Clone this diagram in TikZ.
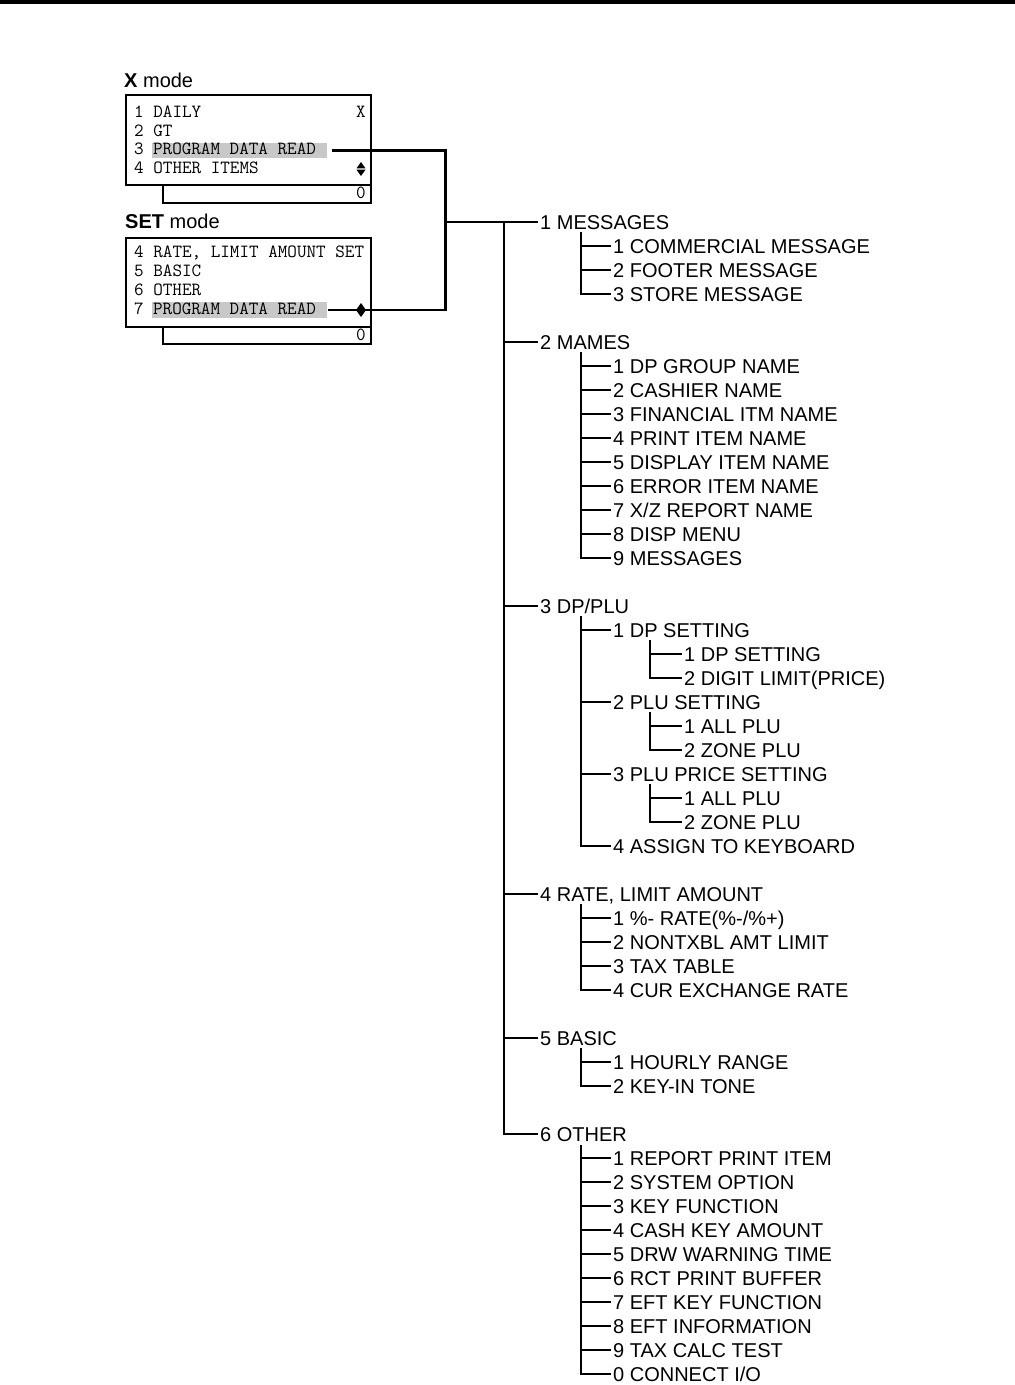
\documentclass[tikz,border=0pt]{standalone}
\usepackage{fontspec}
\setmainfont{Liberation Sans}
\definecolor{hl}{RGB}{200,200,200}
\begin{document}
\begin{tikzpicture}[x=1pt,y=-1pt,
  ln/.style={line width=2.1pt},
  box/.style={draw,line width=1.8pt,inner sep=0pt,anchor=north west},
  lbl/.style={anchor=west,inner sep=0pt,font=\fontsize{20}{24}\selectfont,text height=14.3pt,text depth=0pt},
  mono/.style={anchor=west,inner sep=0pt,font=\fontsize{18.6}{19}\selectfont\ttfamily,text height=12pt,text depth=3.5pt},
  hlbox/.style={mono,fill=hl,inner xsep=1.5pt},
  updown/.pic={\fill (-4.5,-0.7) -- (4.5,-0.7) -- (0,-7) -- cycle;
               \fill (-4.5,0.7) -- (4.5,0.7) -- (0,7) -- cycle;}]
\useasboundingbox (0,0) rectangle (1015,1385);
\fill (0,0) rectangle (1015,4);

% ---------- X mode panel ----------
\node[lbl] (xlab) at (124,80) {\textbf{X} mode};
\node[box,minimum width=245pt,minimum height=90pt] (xbox) at (125,94) {};
\node[box,minimum width=208pt,minimum height=18pt] (xsub) at (162,184) {};
\node[mono] (x1) at (134,113) {1 DAILY};
\node[mono,anchor=center] (xx) at (361,113) {X};
\node[mono] (x2) at (134,132) {2 GT};
\node[mono] (x3) at (134,150.5) {3};
\node[hlbox] (hx) at (151.4,150.5) {PROGRAM DATA READ\phantom{X}};
\node[mono] (x4) at (134,169.5) {4 OTHER ITEMS};
\pic at (361,169) {updown};
\node[mono,anchor=center] (x0) at (361,194.5) {0};

% ---------- SET mode panel ----------
\node[lbl] (slab) at (125,221) {\textbf{SET} mode};
\node[box,minimum width=245pt,minimum height=89pt] (sbox) at (125,237) {};
\node[box,minimum width=208pt,minimum height=17pt] (ssub) at (162,326) {};
\node[mono] (s4) at (134,253.5) {4 RATE, LIMIT AMOUNT SET};
\node[mono] (s5) at (134,272.5) {5 BASIC};
\node[mono] (s6) at (134,291.5) {6 OTHER};
\node[mono] (s7) at (134,310) {7};
\node[hlbox] (hs) at (151.4,310) {PROGRAM DATA READ\phantom{X}};
\node[mono,anchor=center] (s0) at (361,336) {0};

% ---------- tree ----------
\node[lbl] (m1) at (540,222) {1 MESSAGES};
\node[lbl] (m2) at (540,342) {2 MAMES};
\node[lbl] (m3) at (540,606) {3 DP/PLU};
\node[lbl] (m4) at (540,894) {4 RATE, LIMIT AMOUNT};
\node[lbl] (m5) at (540,1038) {5 BASIC};
\node[lbl] (m6) at (540,1134) {6 OTHER};
\node[lbl] (a1) at (613,246) {1 COMMERCIAL MESSAGE};
\node[lbl] (a2) at (613,270) {2 FOOTER MESSAGE};
\node[lbl] (a3) at (613,294) {3 STORE MESSAGE};
\node[lbl] (b1) at (613,366) {1 DP GROUP NAME};
\node[lbl] (b2) at (613,390) {2 CASHIER NAME};
\node[lbl] (b3) at (613,414) {3 FINANCIAL ITM NAME};
\node[lbl] (b4) at (613,438) {4 PRINT ITEM NAME};
\node[lbl] (b5) at (613,462) {5 DISPLAY ITEM NAME};
\node[lbl] (b6) at (613,486) {6 ERROR ITEM NAME};
\node[lbl] (b7) at (613,510) {7 X/Z REPORT NAME};
\node[lbl] (b8) at (613,534) {8 DISP MENU};
\node[lbl] (b9) at (613,558) {9 MESSAGES};
\node[lbl] (c1) at (613,630) {1 DP SETTING};
\node[lbl] (c1a) at (684,654) {1 DP SETTING};
\node[lbl] (c1b) at (684,678) {2 DIGIT LIMIT(PRICE)};
\node[lbl] (c2) at (613,702) {2 PLU SETTING};
\node[lbl] (c2a) at (684,726) {1 ALL PLU};
\node[lbl] (c2b) at (684,750) {2 ZONE PLU};
\node[lbl] (c3) at (613,774) {3 PLU PRICE SETTING};
\node[lbl] (c3a) at (684,798) {1 ALL PLU};
\node[lbl] (c3b) at (684,822) {2 ZONE PLU};
\node[lbl] (c4) at (613,846) {4 ASSIGN TO KEYBOARD};
\node[lbl] (d1) at (613,918) {1 \%- RATE(\%-/\%+)};
\node[lbl] (d2) at (613,942) {2 NONTXBL AMT LIMIT};
\node[lbl] (d3) at (613,966) {3 TAX TABLE};
\node[lbl] (d4) at (613,990) {4 CUR EXCHANGE RATE};
\node[lbl] (e1) at (613,1062) {1 HOURLY RANGE};
\node[lbl] (e2) at (613,1086) {2 KEY-IN TONE};
\node[lbl] (f1) at (613,1158) {1 REPORT PRINT ITEM};
\node[lbl] (f2) at (613,1182) {2 SYSTEM OPTION};
\node[lbl] (f3) at (613,1206) {3 KEY FUNCTION};
\node[lbl] (f4) at (613,1230) {4 CASH KEY AMOUNT};
\node[lbl] (f5) at (613,1254) {5 DRW WARNING TIME};
\node[lbl] (f6) at (613,1278) {6 RCT PRINT BUFFER};
\node[lbl] (f7) at (613,1302) {7 EFT KEY FUNCTION};
\node[lbl] (f8) at (613,1326) {8 EFT INFORMATION};
\node[lbl] (f9) at (613,1350) {9 TAX CALC TEST};
\node[lbl] (f0) at (613,1374) {0 CONNECT I/O};

% ---------- connectors ----------
\tikzset{gap/.style={xshift=-2pt}}
\coordinate (jn) at (445.5,222);
\coordinate (t0) at (504,222);
\draw[ln] ([xshift=5pt]hx.east) -| (jn |- hs.east) -- ([xshift=1pt]hs.east);
\pic at (361,310) {updown};
\draw[ln] (jn) -- ([gap]m1.west);
\draw[ln] (t0) |- ([gap]m6.west);
\foreach \n in {m2,m3,m4,m5} \draw[ln] ([gap]\n.west) -- (\n.west -| t0);

\coordinate (pa) at (581,232);
\draw[ln] (pa) |- ([gap]a3.west);
\foreach \n in {a1,a2} \draw[ln] ([gap]\n.west) -- (\n.west -| pa);

\coordinate (pb) at (581,352);
\draw[ln] (pb) |- ([gap]b9.west);
\foreach \n in {b1,b2,b3,b4,b5,b6,b7,b8} \draw[ln] ([gap]\n.west) -- (\n.west -| pb);

\coordinate (pc) at (581,616);
\draw[ln] (pc) |- ([gap]c4.west);
\foreach \n in {c1,c2,c3} \draw[ln] ([gap]\n.west) -- (\n.west -| pc);

\coordinate (pc1) at (650,640);
\draw[ln] (pc1) |- ([gap]c1b.west);
\draw[ln] ([gap]c1a.west) -- (c1a.west -| pc1);
\coordinate (pc2) at (650,712);
\draw[ln] (pc2) |- ([gap]c2b.west);
\draw[ln] ([gap]c2a.west) -- (c2a.west -| pc2);
\coordinate (pc3) at (650,784);
\draw[ln] (pc3) |- ([gap]c3b.west);
\draw[ln] ([gap]c3a.west) -- (c3a.west -| pc3);

\coordinate (pd) at (581,904);
\draw[ln] (pd) |- ([gap]d4.west);
\foreach \n in {d1,d2,d3} \draw[ln] ([gap]\n.west) -- (\n.west -| pd);

\coordinate (pe) at (581,1048);
\draw[ln] (pe) |- ([gap]e2.west);
\draw[ln] ([gap]e1.west) -- (e1.west -| pe);

\coordinate (pf) at (581,1145);
\draw[ln] (pf) |- ([gap]f0.west);
\foreach \n in {f1,f2,f3,f4,f5,f6,f7,f8,f9} \draw[ln] ([gap]\n.west) -- (\n.west -| pf);
\end{tikzpicture}
\end{document}
